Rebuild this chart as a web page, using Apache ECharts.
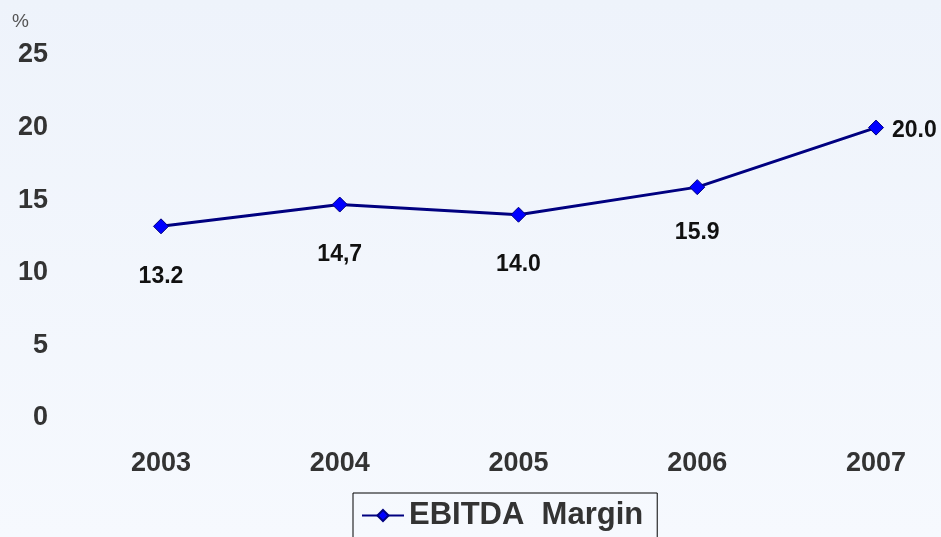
<!DOCTYPE html>
<html>
<head>
<meta charset="utf-8">
<script src="https://cdn.jsdelivr.net/npm/echarts@6/dist/echarts.min.js"></script>
<style>
  html, body { margin: 0; padding: 0; }
  #chart { width: 941px; height: 537px; }
</style>
</head>
<body>
<div id="chart"></div>
<script>
/* 数据 */
var years = ['2003', '2004', '2005', '2006', '2007'];
var margins = [13.2, 14.7, 14.0, 15.9, 20.0];
var marginLabels = ['13.2', '14,7', '14.0', '15.9', '20.0'];
var yTicks = [0, 5, 10, 15, 20, 25];

/* 每个点的标签位置 */
var labelPos = ['bottom', 'bottom', 'bottom', 'bottom', 'right'];
var labelDist = [31, 31, 30, 26, 8];

var seriesData = [];
for (var i = 0; i < margins.length; i++) {
    seriesData.push({
        value: margins[i],
        label: {
            position: labelPos[i],
            distance: labelDist[i],
            offset: i === margins.length - 1 ? [0, 3] : [0, 0],
            formatter: marginLabels[i]
        }
    });
}

var myChart = echarts.init(document.getElementById('chart'));
var option = {
    backgroundColor: {
        type: 'linear', x: 0, y: 0, x2: 0, y2: 1,
        colorStops: [{ offset: 0, color: '#eef3fb' }, { offset: 1, color: '#f6f9fe' }]
    },
    textStyle: { fontFamily: 'Liberation Sans, Arial, sans-serif' },
    grid: { left: 161, right: 65, top: 55, bottom: 119 },
    legend: {
        data: ['EBITDA  Margin'],
        left: 353,
        top: 493,
        padding: [7, 14, 12, 8],
        itemWidth: 42,
        itemHeight: 14,
        itemGap: 6,
        borderColor: '#000',
        borderWidth: 1,
        textStyle: { fontSize: 31, fontWeight: 'bold', color: '#333' }
    },
    xAxis: {
        type: 'category',
        data: years,
        boundaryGap: false,
        axisLine: { show: false },
        axisTick: { show: false },
        axisLabel: { margin: 32, fontSize: 27, fontWeight: 'bold', color: '#333' }
    },
    yAxis: {
        type: 'value',
        min: yTicks[0],
        max: yTicks[yTicks.length - 1],
        interval: 5,
        name: '%',
        nameLocation: 'end',
        nameGap: 24,
        nameTextStyle: { fontSize: 19, color: '#555', align: 'left', padding: [0, 0, 0, -149] },
        splitLine: { show: false },
        axisLine: { show: false },
        axisTick: { show: false },
        axisLabel: { margin: 113, fontSize: 27, fontWeight: 'bold', color: '#333' }
    },
    series: [{
        name: 'EBITDA  Margin',
        type: 'line',
        data: seriesData,
        symbol: 'diamond',
        symbolSize: 15,
        lineStyle: { color: '#000080', width: 3 },
        itemStyle: { color: '#0000ff', borderColor: '#000080', borderWidth: 1 },
        label: { show: true, fontSize: 23, fontWeight: 'bold', color: '#111' }
    }]
};
myChart.setOption(option, true);
</script>
</body>
</html>
